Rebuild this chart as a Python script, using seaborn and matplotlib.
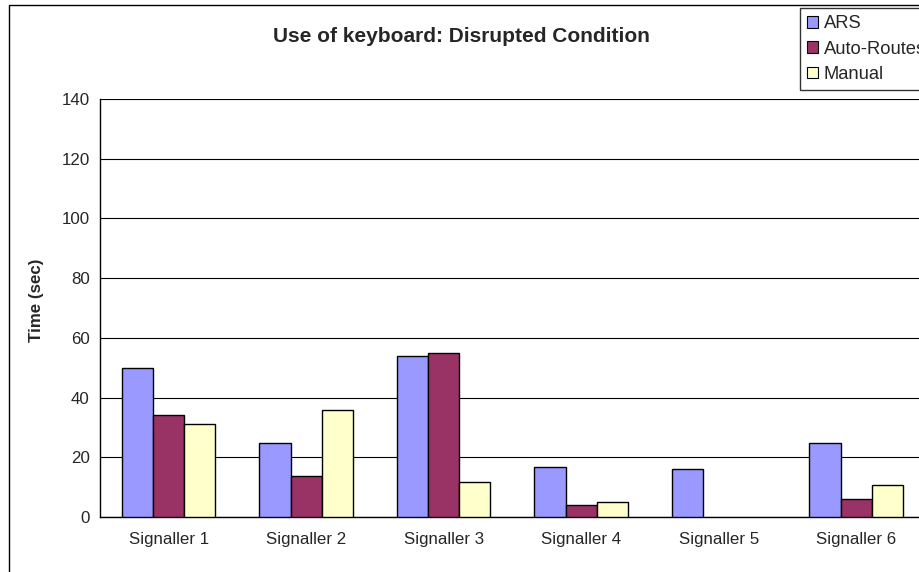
import numpy as np
import pandas as pd
import matplotlib
matplotlib.use("Agg")
import matplotlib.pyplot as plt
from matplotlib.patches import Rectangle, Patch
import seaborn as sns

# data
signallers = ["Signaller 1", "Signaller 2", "Signaller 3", "Signaller 4", "Signaller 5", "Signaller 6"]
ars = [50, 24.7, 54, 16.8, 16, 24.7]
auto_routes = [34, 13.6, 55, 3.9, np.nan, 5.9]
manual = [31, 35.7, 11.7, 4.9, np.nan, 10.8]
modes = ["ARS", "Auto-Routes", "Manual"]
colors = ["#9999FF", "#993366", "#FFFFCC"]
yticks = [0, 20, 40, 60, 80, 100, 120, 140]

df = pd.DataFrame({"Signaller": signallers, "ARS": ars, "Auto-Routes": auto_routes, "Manual": manual})
df = pd.melt(df, id_vars="Signaller", var_name="Mode", value_name="Time").dropna()

sns.set_style("white")
plt.rcParams["font.family"] = ["Liberation Sans", "DejaVu Sans"]
fs = 12.2

fig = plt.figure(figsize=(9.2, 5.72), dpi=100)
ax = fig.add_axes([100/920, 55/572, 825/920, 418/572])

sns.barplot(data=df, x="Signaller", y="Time", hue="Mode", order=signallers, hue_order=modes,
            palette=colors, width=0.68, gap=0, edgecolor="black", linewidth=1,
            saturation=1, legend=False, ax=ax, zorder=3)

ax.set_xlim(-0.5, 5.5)
ax.set_ylim(0, 140)
ax.set_yticks(yticks)
ax.set_yticklabels([str(t) for t in yticks])
ax.yaxis.grid(True, color="black", linewidth=0.8, zorder=0)
ax.set_axisbelow(True)
ax.set_xlabel("")
ax.set_ylabel("")
for s in ["top", "right"]:
    ax.spines[s].set_visible(False)
for s in ["left", "bottom"]:
    ax.spines[s].set_color("black")
    ax.spines[s].set_linewidth(1)
ax.tick_params(axis="y", direction="out", length=4.5, width=0.8, color="black", pad=3, labelsize=fs)
ax.tick_params(axis="x", which="major", length=0, pad=11, labelsize=fs)
ax.set_xticks(np.arange(-0.5, 6.0, 1.0), minor=True)
ax.tick_params(axis="x", which="minor", direction="out", length=4, width=0.8, color="black")

fig.text(461/920, 1 - 37/572, "Use of keyboard: Disrupted Condition", ha="center", va="center",
         fontsize=15, fontweight="bold")
fig.text(37/920, 1 - 300/572, "Time (sec)", ha="center", va="center", rotation=90,
         fontsize=fs, fontweight="bold")

# outer chart frame (bottom edge falls just off the image)
fig.patches.append(Rectangle((9/920, -1/572), 1.0, 568/572, transform=fig.transFigure,
                             fill=False, edgecolor="black", linewidth=1))

handles = [Patch(facecolor=c, edgecolor="black", linewidth=0.8) for c in colors]
leg = fig.legend(handles=handles, labels=modes, loc="upper left", bbox_to_anchor=(800/920, 1 - 8/572),
                 frameon=True, fancybox=False, edgecolor="black", fontsize=13.2,
                 handlelength=0.6, handleheight=0.6, handletextpad=0.3, labelspacing=0.45,
                 borderpad=0.4, borderaxespad=0)
leg.get_frame().set_linewidth(1)

fig.savefig("out.png", dpi=100)
